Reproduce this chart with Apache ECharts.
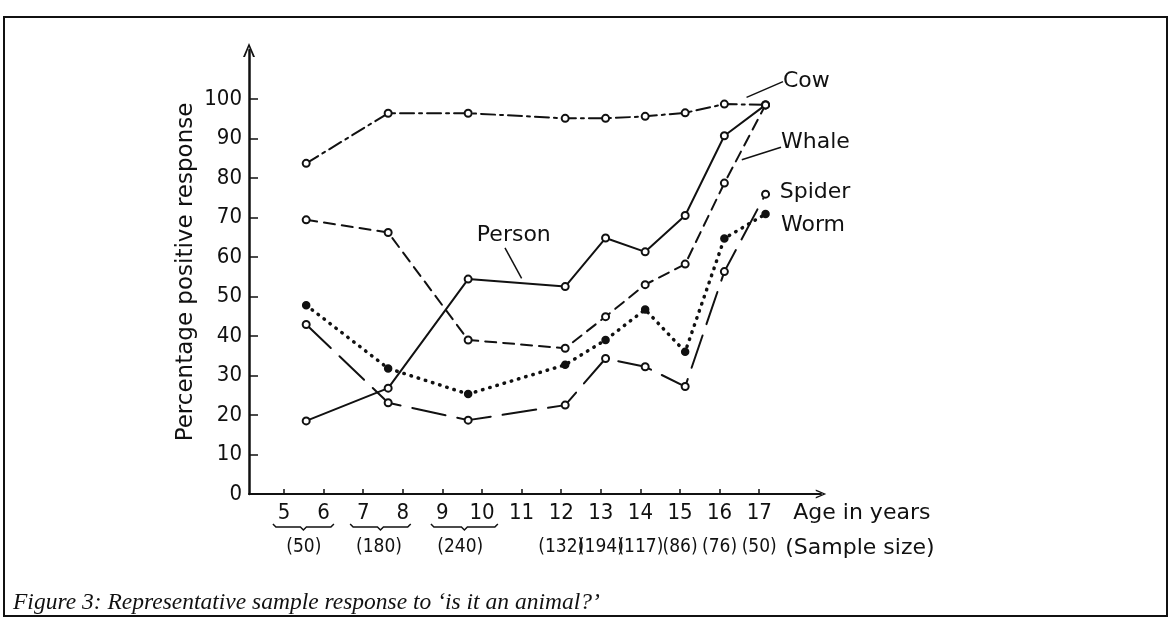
<!DOCTYPE html>
<html>
<head>
<meta charset="utf-8">
<title>Is it an animal?</title>
<script src="https://cdn.jsdelivr.net/npm/echarts@6/dist/echarts.min.js"></script>
<style>
  html, body { margin: 0; padding: 0; background: #fff; }
  #main { width: 1171px; height: 622px; }
</style>
</head>
<body>
<div id="main"></div>
<script>
// ages where the points were plotted
const ages = [5.56, 7.63, 9.65, 12.1, 13.12, 14.12, 15.13, 16.12, 17.16];
const cow    = [83.7, 96.4, 96.4, 95.1, 95.1, 95.6, 96.5, 98.7, 98.5];
const whale  = [69.4, 66.2, 39.0, 36.9, 44.9, 53.0, 58.2, 78.7, 98.5];
const person = [18.5, 26.8, 54.4, 52.5, 64.8, 61.3, 70.5, 90.7, 98.5];
const worm   = [47.8, 31.8, 25.3, 32.7, 39.0, 46.7, 36.0, 64.7, 70.9];
const spider = [42.9, 23.1, 18.7, 22.5, 34.3, 32.2, 27.2, 56.3, 75.9];

// axis ticks / labels
const yTicks = [0, 10, 20, 30, 40, 50, 60, 70, 80, 90, 100];
const ageTicks = [5, 6, 7, 8, 9, 10, 11, 12, 13, 14, 15, 16, 17];
const samplePos = [5.5, 7.4, 9.45, 12, 13, 14, 15, 16, 17];
const sampleSizes = ['(50)', '(180)', '(240)', '(132)', '(194)', '(117)', '(86)', '(76)', '(50)'];
const braces = [[4.72, 6.26], [6.67, 8.2], [8.71, 10.4]];

// numbers are set narrow, words in the wider face
const NUM_FONT = '"DejaVu Sans Condensed", "Liberation Sans Narrow", "DejaVu Sans", sans-serif';
const WORD_FONT = '"DejaVu Sans", sans-serif';
const INK = '#111';

document.addEventListener('DOMContentLoaded', function(){
  var chart = echarts.init(document.getElementById('main'));
  const pts = arr => ages.map((a, i) => [a, arr[i]]);
  const chevron = 'path://M0,14 L6,0 L12,14 L10,14 L6,4 L2,14 Z';

  const mkSeries = (name, data, lineType, width, symbol) => ({
    name: name,
    type: 'line',
    data: pts(data),
    symbol: symbol || 'emptyCircle',
    symbolSize: 7,
    showSymbol: true,
    itemStyle: { color: INK, borderColor: INK, borderWidth: 1.5 },
    lineStyle: { color: INK, width: width, type: lineType, cap: 'round' },
    emphasis: { disabled: true },
    animation: false
  });

  chart.setOption({
    backgroundColor: '#fff',
    animation: false,
    grid: { left: 249, right: 350, top: 50, bottom: 128 },
    xAxis: [{
      type: 'value',
      min: 4.116,
      max: 18.56,
      axisLine: { show: true, symbol: ['none', chevron], symbolSize: [9, 22], lineStyle: { color: INK, width: 2 } },
      axisTick: { show: true, inside: true, length: 5, customValues: ageTicks, lineStyle: { color: INK, width: 1.5 } },
      axisLabel: { customValues: ageTicks, color: INK, fontSize: 22, fontFamily: NUM_FONT, margin: 8 },
      splitLine: { show: false }
    }, {
      type: 'value',
      position: 'bottom',
      min: 4.116,
      max: 18.56,
      axisLine: { show: false },
      axisTick: { show: false },
      axisLabel: {
        customValues: samplePos, color: INK, fontSize: 19, fontFamily: NUM_FONT, margin: 44, hideOverlap: false,
        formatter: v => sampleSizes[samplePos.indexOf(v)] || ''
      },
      splitLine: { show: false }
    }],
    yAxis: {
      type: 'value',
      min: 0,
      max: 112.4,
      name: 'Percentage positive response',
      nameLocation: 'middle',
      nameGap: 51,
      nameTextStyle: { color: INK, fontSize: 23, fontFamily: WORD_FONT },
      axisLine: { show: true, symbol: ['none', chevron], symbolSize: [12, 14], lineStyle: { color: INK, width: 2.5 } },
      axisTick: { show: true, inside: true, length: 9, customValues: yTicks, lineStyle: { color: INK, width: 1.5 } },
      axisLabel: { customValues: yTicks, color: INK, fontSize: 22, fontFamily: NUM_FONT, margin: 7 },
      splitLine: { show: false }
    },
    series: [
      mkSeries('Cow', cow, [14, 5, 3, 5], 2),
      mkSeries('Whale', whale, [11, 7], 2),
      mkSeries('Person', person, 'solid', 2),
      mkSeries('Worm', worm, [0.5, 7], 3.5, 'circle'),
      mkSeries('Spider', spider, [34, 12], 2)
    ]
  });

  // annotations, placed in data coordinates
  const px = p => chart.convertToPixel({ gridIndex: 0 }, p);
  const labels = [
    { text: 'Cow',    at: [17.6, 104.4], from: [17.6, 104.4], to: [16.68, 100.4] },
    { text: 'Whale',  at: [17.55, 89.1], from: [17.55, 87.8], to: [16.56, 84.6] },
    { text: 'Spider', at: [17.52, 76.5] },
    { text: 'Worm',   at: [17.55, 68.1] },
    { text: 'Person', at: [9.87, 65.6], from: [10.58, 62.3], to: [11.0, 54.6] }
  ];
  const graphic = [];
  labels.forEach(l => {
    const p = px(l.at);
    graphic.push({
      type: 'text', x: p[0], y: p[1],
      style: { text: l.text, fill: INK, font: '22px ' + WORD_FONT, align: 'left', verticalAlign: 'middle' }
    });
    if (l.from) {
      const a = px(l.from), b = px(l.to);
      graphic.push({ type: 'line', shape: { x1: a[0], y1: a[1], x2: b[0], y2: b[1] }, style: { stroke: INK, lineWidth: 1.5 } });
    }
  });

  // braces grouping the paired ages
  const y0 = px([5, 0])[1] + 30;
  braces.forEach(br => {
    const x1 = px([br[0], 0])[0], x2 = px([br[1], 0])[0], xm = (x1 + x2) / 2;
    graphic.push({
      type: 'polyline',
      shape: { points: [[x1, y0], [x1 + 3, y0 + 3], [xm - 3, y0 + 3], [xm, y0 + 6], [xm + 3, y0 + 3], [x2 - 3, y0 + 3], [x2, y0]] },
      style: { fill: null, stroke: INK, lineWidth: 1.5 }
    });
  });

  // axis titles below the age axis
  const ax = px([17.86, 0]);
  graphic.push({ type: 'text', x: ax[0], y: ax[1] + 19, style: { text: 'Age in years', fill: INK, font: '22px ' + WORD_FONT, verticalAlign: 'middle' } });
  graphic.push({ type: 'text', x: ax[0] - 8, y: ax[1] + 54, style: { text: '(Sample size)', fill: INK, font: '22px ' + WORD_FONT, verticalAlign: 'middle' } });

  // frame and caption
  graphic.push({ type: 'rect', shape: { x: 4, y: 17, width: 1163, height: 599 }, style: { fill: null, stroke: INK, lineWidth: 2 } });
  graphic.push({ type: 'text', x: 13, y: 603, style: { text: 'Figure 3: Representative sample response to \u2018is it an animal?\u2019', fill: INK, font: 'italic 23.5px "Liberation Serif", serif', verticalAlign: 'middle' } });

  chart.setOption({ graphic: graphic });
});
</script>
</body>
</html>
